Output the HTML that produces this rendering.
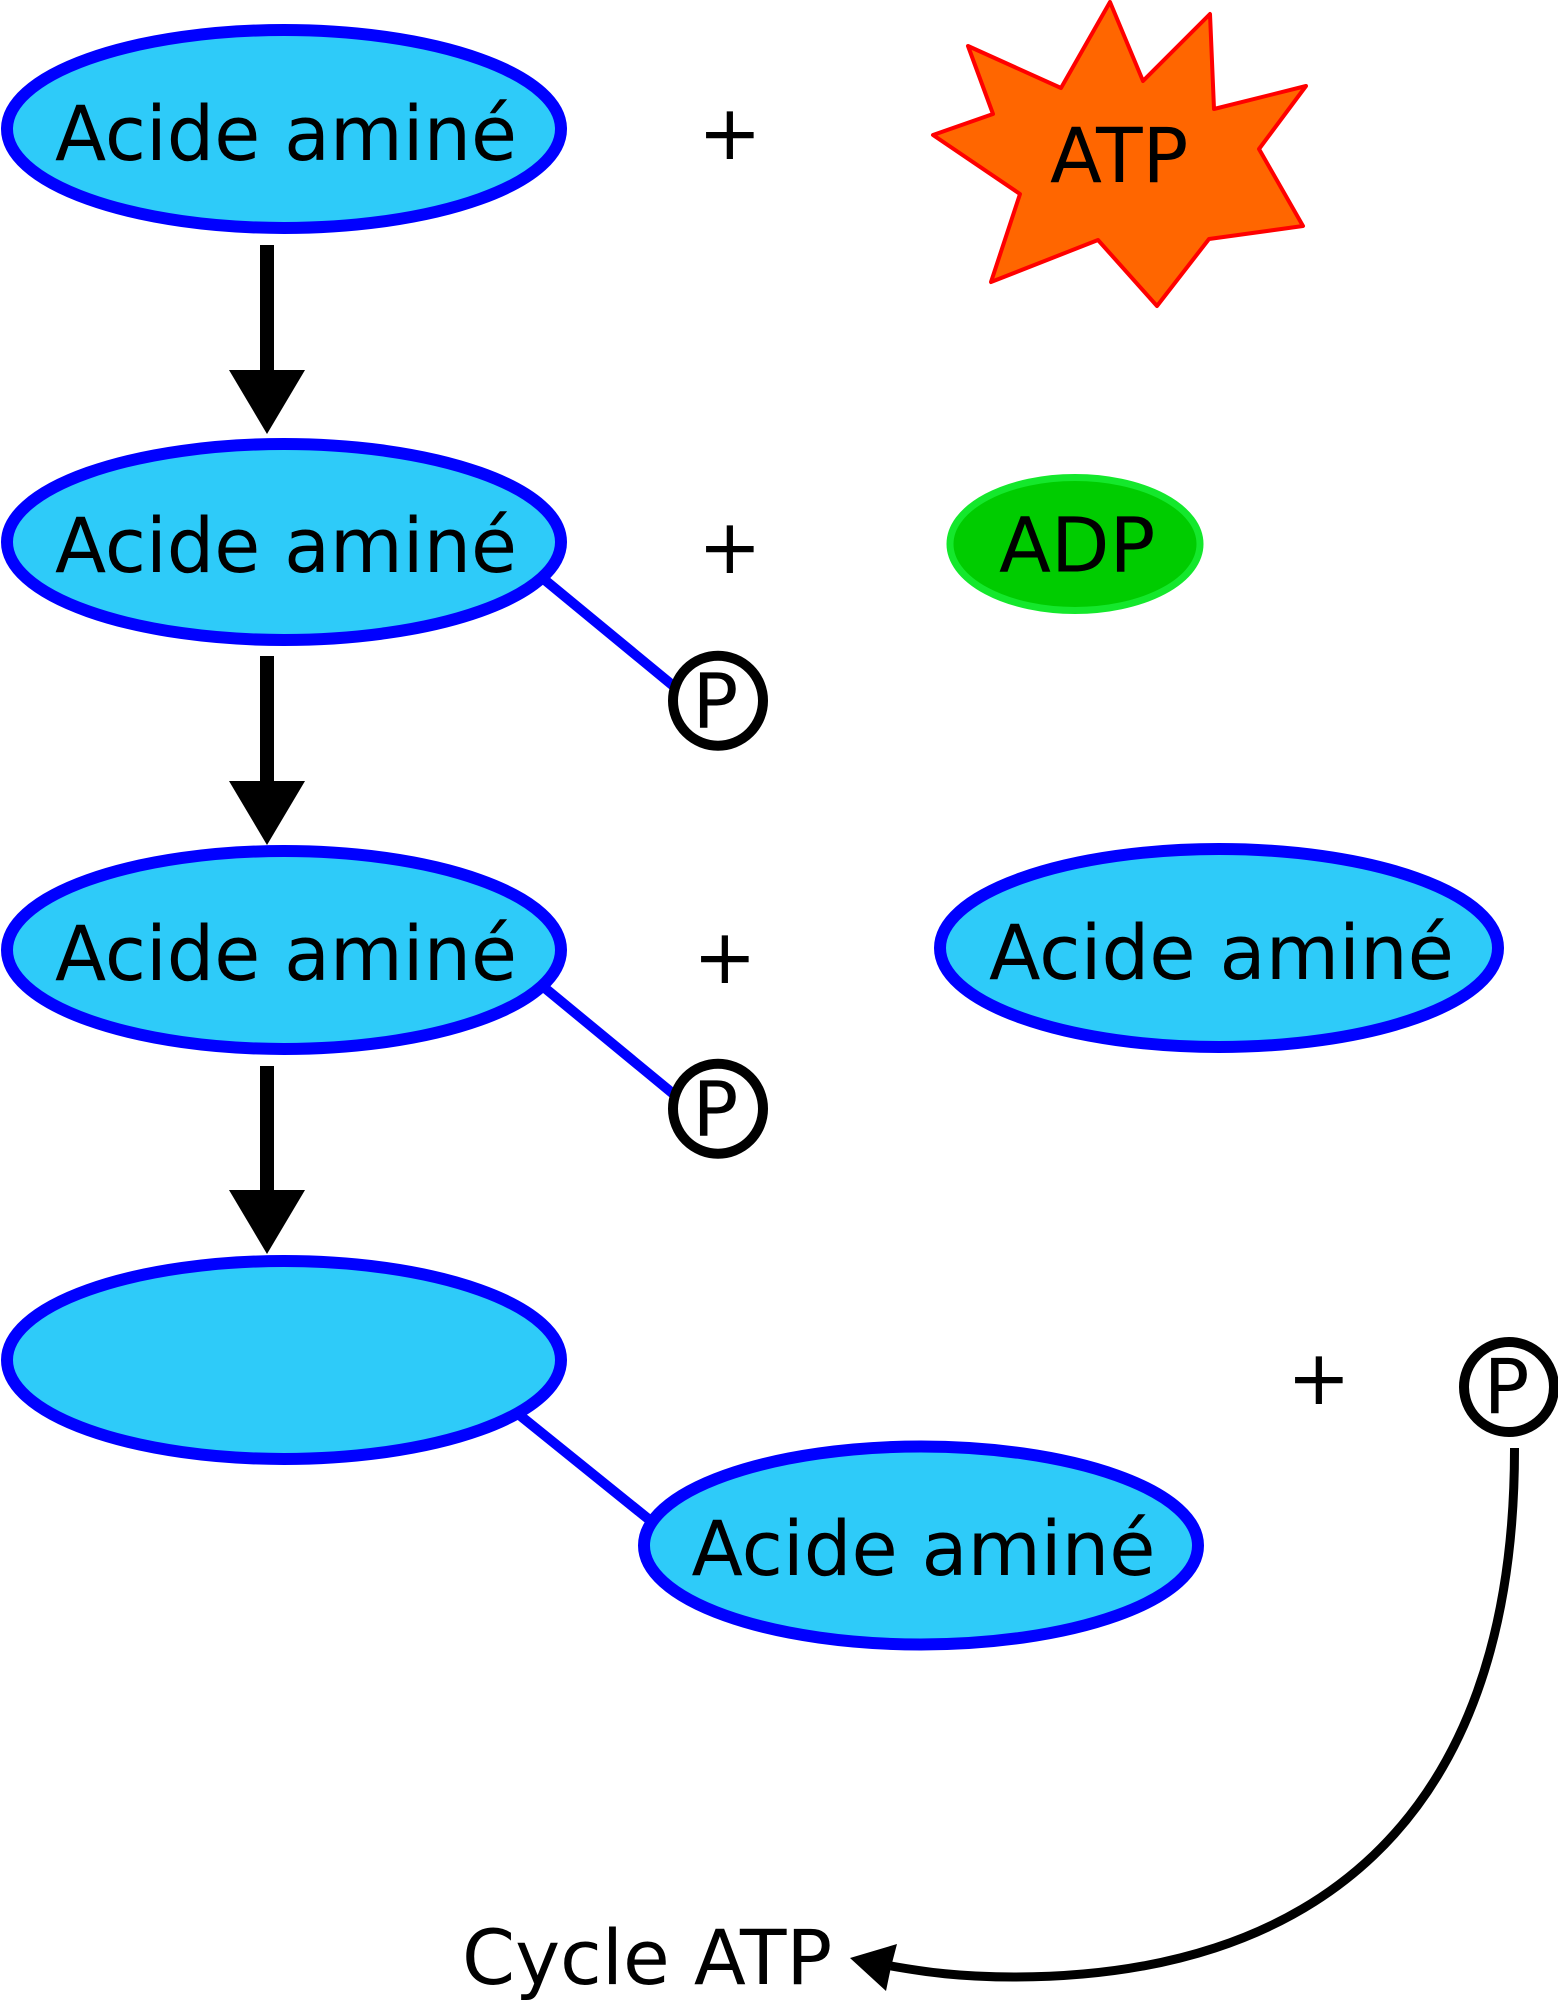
<!DOCTYPE html>
<html>
<head>
<meta charset="utf-8">
<style>
  html, body { margin: 0; padding: 0; background: #ffffff; }
  body { width: 1558px; height: 2000px; overflow: hidden; }
  svg { display: block; }
  text { font-family: "DejaVu Sans", "Liberation Sans", sans-serif; font-size: 76px; fill: #000000; }
</style>
</head>
<body>
<svg width="1558" height="2000" viewBox="0 0 1558 2000" xmlns="http://www.w3.org/2000/svg">
  <!-- blue connector lines (drawn beneath shapes) -->
  <g stroke="#0000ff" stroke-width="10" fill="none">
    <line x1="540" y1="576" x2="688" y2="698"/>
    <line x1="540" y1="984" x2="688" y2="1106"/>
    <line x1="512" y1="1409" x2="662" y2="1530"/>
  </g>

  <!-- Blue ellipses -->
  <g fill="#2ecbf9" stroke="#0000ff" stroke-width="12">
    <ellipse cx="284" cy="129" rx="277" ry="99"/>
    <ellipse cx="284" cy="542" rx="277" ry="98"/>
    <ellipse cx="284" cy="950" rx="277" ry="99"/>
    <ellipse cx="1219" cy="948" rx="279" ry="99"/>
    <ellipse cx="284" cy="1360" rx="277" ry="99"/>
    <ellipse cx="921" cy="1545.5" rx="277" ry="99"/>
  </g>

  <!-- Ellipse labels -->
  <text x="55" y="160" textLength="462" lengthAdjust="spacingAndGlyphs">Acide aminé</text>
  <text x="55" y="572" textLength="462" lengthAdjust="spacingAndGlyphs">Acide aminé</text>
  <text x="55" y="980" textLength="462" lengthAdjust="spacingAndGlyphs">Acide aminé</text>
  <text x="989" y="979" textLength="465" lengthAdjust="spacingAndGlyphs">Acide aminé</text>
  <text x="691.5" y="1575" textLength="464" lengthAdjust="spacingAndGlyphs">Acide aminé</text>

  <!-- Plus signs -->
  <text x="698" y="159">+</text>
  <text x="698" y="573">+</text>
  <text x="693" y="983">+</text>
  <text x="1287" y="1404">+</text>

  <!-- Down arrows -->
  <g fill="#000000">
    <rect x="260" y="245" width="14" height="127"/>
    <polygon points="229,370 305,370 267,434"/>
    <rect x="260" y="656" width="14" height="127"/>
    <polygon points="229,781 305,781 267,845"/>
    <rect x="260" y="1066" width="14" height="126"/>
    <polygon points="229,1190 305,1190 267,1254"/>
  </g>

  <!-- ATP star -->
  <polygon fill="#ff6600" stroke="#ff0000" stroke-width="4" stroke-linejoin="round"
    points="1110,2 1143,81 1210,14 1214,109 1306,86 1259,149 1303,226 1209,239 1157,306 1098,240 991,282 1020,194 933,135 993,114 968,46 1061,88"/>
  <text x="1050" y="182">ATP</text>

  <!-- ADP ellipse -->
  <ellipse cx="1075" cy="544" rx="125" ry="66.5" fill="#00cc00" stroke="#14e82c" stroke-width="7"/>
  <text x="999" y="571.5">ADP</text>

  <!-- P circles -->
  <g fill="#ffffff" stroke="#000000" stroke-width="10">
    <circle cx="718" cy="700.7" r="45"/>
    <circle cx="718" cy="1108.7" r="45"/>
    <circle cx="1509" cy="1387" r="45"/>
  </g>
  <text x="692.5" y="727.5">P</text>
  <text x="692.5" y="1135.5">P</text>
  <text x="1483.6" y="1413">P</text>

  <!-- Cycle curve -->
  <path d="M1514.5,1448 C1515,1829 1305,1977 1014,1977 C960,1977 925,1972 891,1966" fill="none" stroke="#000000" stroke-width="9"/>
  <polygon points="850,1958 897,1944 891,1967 886,1991" fill="#000000"/>

  <text x="462" y="1984">Cycle ATP</text>
</svg>
</body>
</html>
